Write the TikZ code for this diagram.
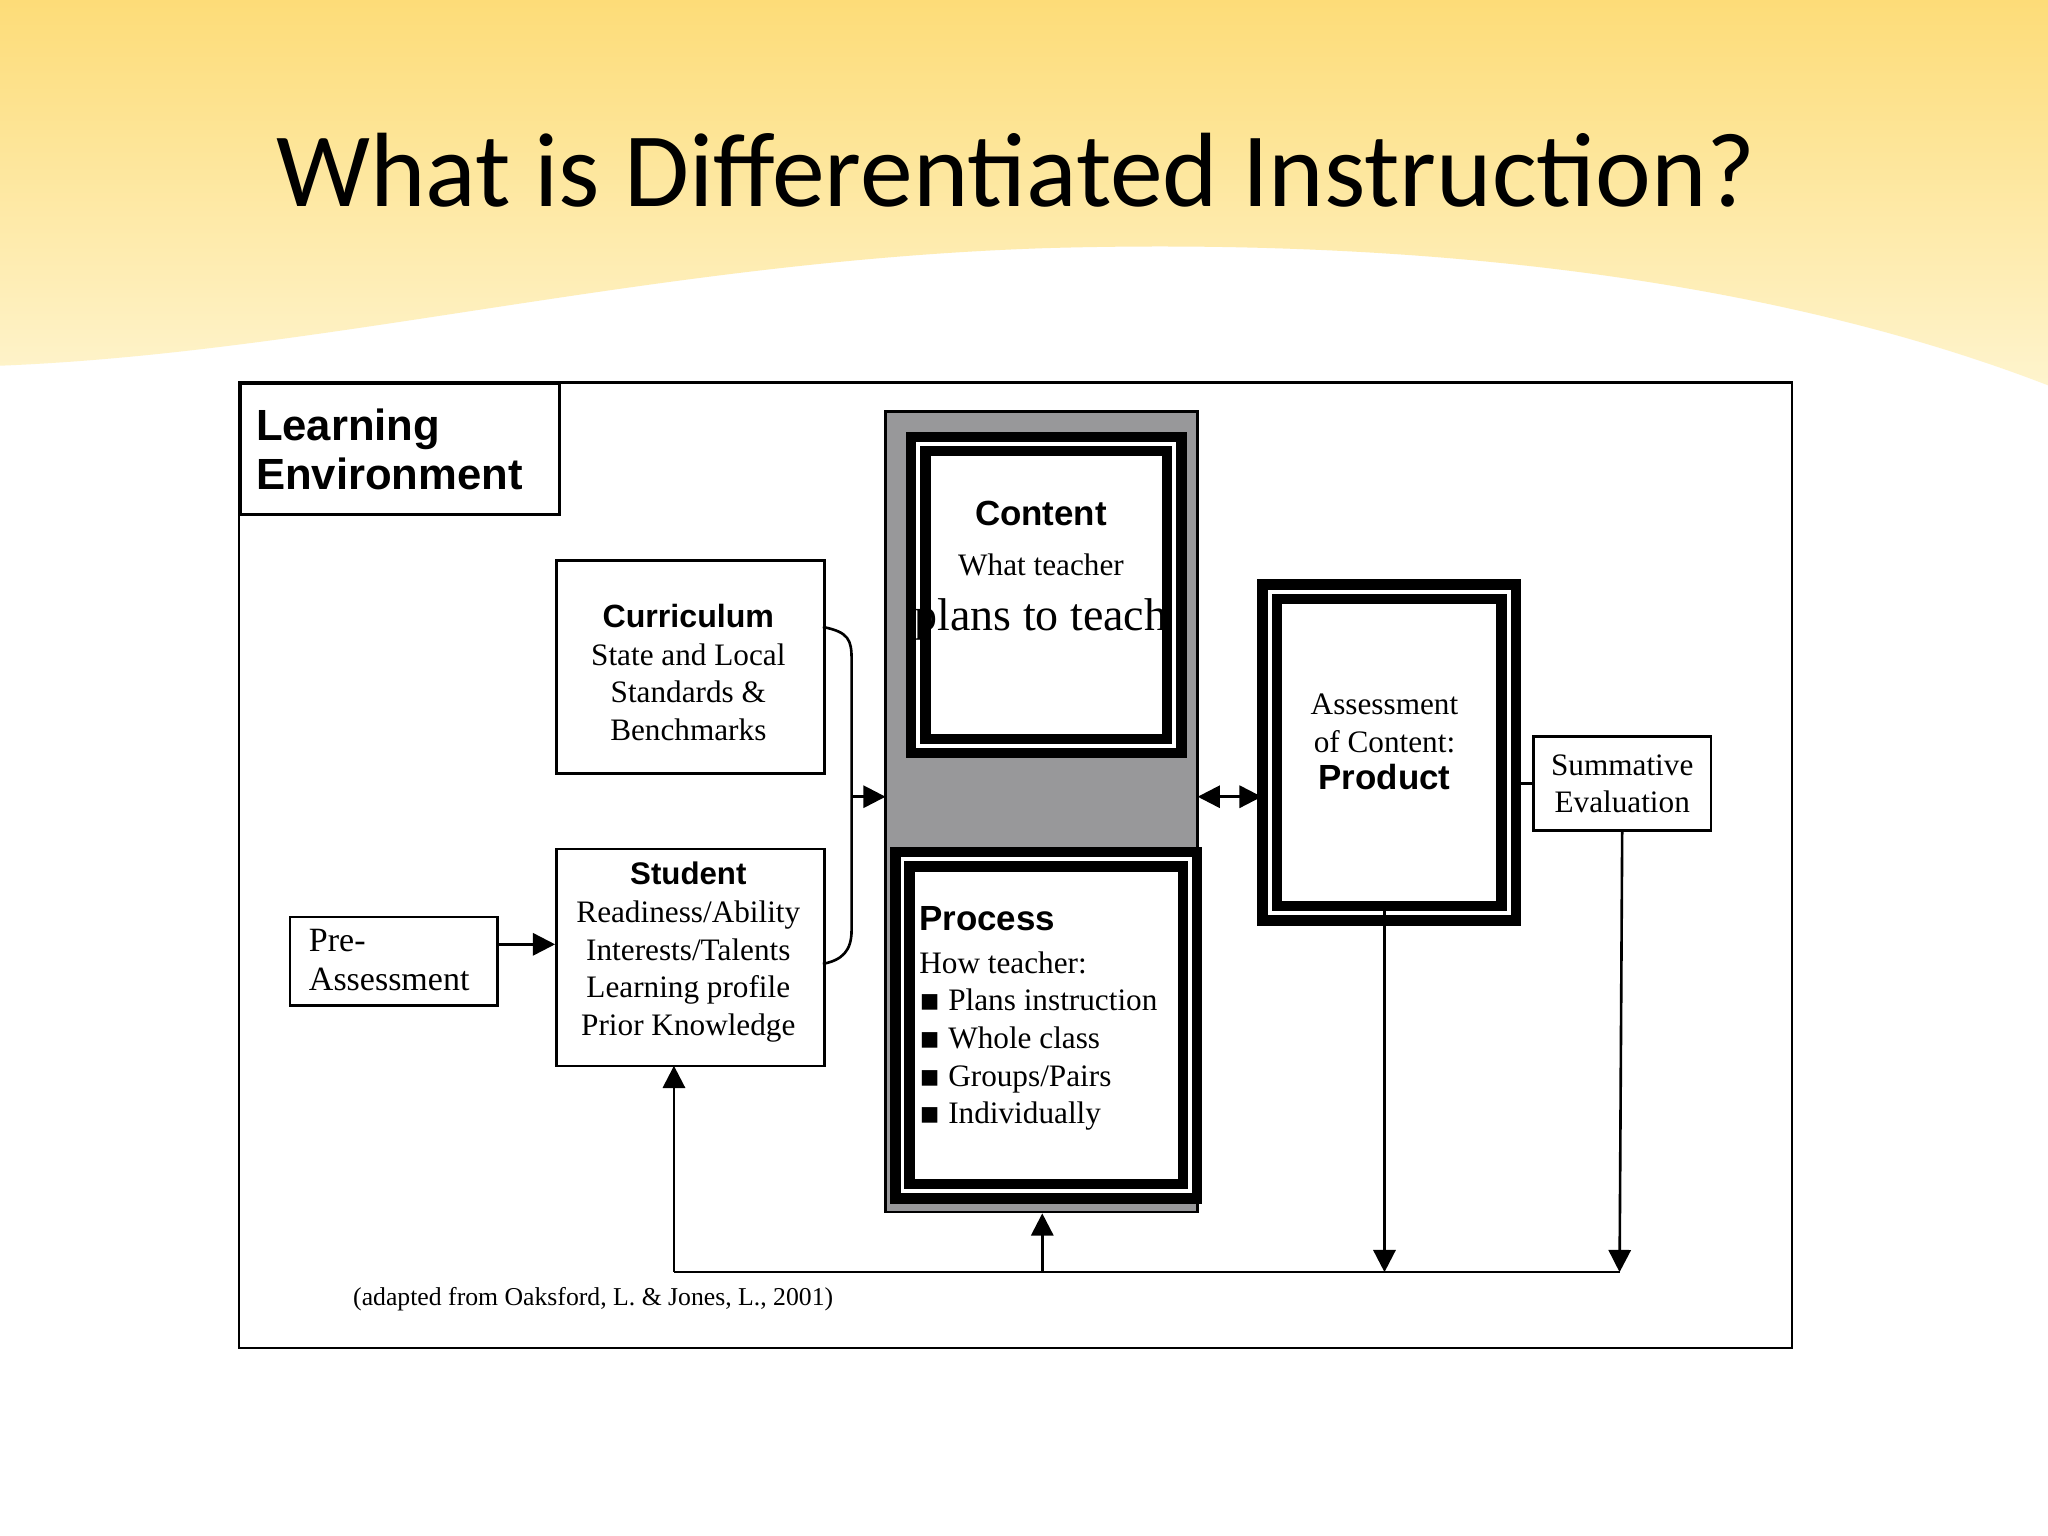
\documentclass[tikz,border=0pt]{standalone}
\usepackage{fontspec}
\setmainfont{Liberation Serif}
\setsansfont{Liberation Sans}
\newfontfamily\titlefont{Carlito}
\newfontfamily\symfont{DejaVu Sans}
\usetikzlibrary{arrows.meta}
\begin{document}
\begin{tikzpicture}[x=0.01cm,y=-0.01cm,
 box/.style={draw,line width=0.02cm,align=center,inner sep=0},
 ln/.style={line width=0.02cm},
 tri/.style={-{Triangle[length=0.17cm,width=0.17cm]}},
 body/.style={font=\fontsize{6.8pt}{8.2pt}\selectfont}]
\useasboundingbox (0,0) rectangle (1568,1176);
\fill[white] (0,0) rectangle (1568,1176);
\shade[top color={rgb,255:red,253;green,220;blue,120},bottom color={rgb,255:red,254;green,244;blue,205}]
 (0,0) -- (1568,0) -- (1568,295) .. controls (1400,230) and (1150,180) .. (800,190)
 .. controls (500,200) and (250,270) .. (0,280) -- cycle;
\node[font=\titlefont\fontsize{23pt}{26pt}\selectfont] (title) at (778,130) {What is Differentiated Instruction?};
\draw[ln,fill=white] (183,293) rectangle (1372,1032);
\node[box,minimum width=2.44cm,minimum height=1.0cm,anchor=north west,align=left,
 font=\sffamily\bfseries\fontsize{9.5pt}{10.5pt}\selectfont,text width=2.2cm] (le) at (183,293) {Learning\\Environment};
\draw[ln,fill={rgb,255:red,152;green,152;blue,154}] (678,315) rectangle (917,928);
\node[draw,line width=0.08cm,fill=white,minimum width=1.96cm,minimum height=2.31cm,anchor=north west,double=white,double distance=0.03cm] (content) at (699,336) {};
\node[align=center] (ct) at (797,437) {{\sffamily\bfseries\fontsize{7.6pt}{9pt}\selectfont Content}\\[-1pt]\fontsize{6.8pt}{8.2pt}\selectfont What teacher\\plans to teach};
\node[draw,line width=0.08cm,fill=white,minimum width=2.2cm,minimum height=2.54cm,anchor=north west,double=white,double distance=0.03cm] (process) at (687,654) {};
\node[align=left,body] (pt) at (795,780) {\hfil{\sffamily\bfseries\fontsize{7.6pt}{9pt}\selectfont Process}\hfil\\[1pt]
 \hfil How teacher:\hfil\\ {\symfont ▪} Plans instruction\\ {\symfont ▪} Whole class\\ {\symfont ▪} Groups/Pairs\\ {\symfont ▪} Individually};
\node[draw,line width=0.08cm,fill=white,minimum width=1.83cm,minimum height=2.46cm,anchor=north west,double=white,double distance=0.03cm] (product) at (968,449) {};
\node[align=center,body] (prt) at (1060,568) {Assessment\\of Content:\\{\sffamily\bfseries\fontsize{7.6pt}{9pt}\selectfont Product}};
\node[box,minimum width=2.05cm,minimum height=1.63cm,anchor=north west] (curr) at (425,428) {};
\node[align=center,body] (currt) at (527,515) {{\sffamily\bfseries\fontsize{7pt}{8pt}\selectfont Curriculum}\\State and Local\\Standards \&\\Benchmarks};
\node[box,minimum width=2.05cm,minimum height=1.66cm,anchor=north west] (stud) at (425,649) {};
\node[align=center,body] (studt) at (527,729) {{\sffamily\bfseries\fontsize{6.8pt}{8pt}\selectfont Student}\\Readiness/Ability\\Interests/Talents\\Learning profile\\Prior Knowledge};
\node[box,minimum width=1.59cm,minimum height=0.68cm,anchor=north west] (pre) at (221,701) {};
\node[align=left,font=\fontsize{7.4pt}{8.6pt}\selectfont] (pret) at (298,735) {Pre-\\Assessment};
\node[box,minimum width=1.36cm,minimum height=0.72cm,body] (summ) at (1242,600) {Summative\\Evaluation};
\draw[ln] (630,480) .. controls (650,484) and (652,490) .. (652,505) -- (652,712) .. controls (652,728) and (645,735) .. (630,738);
\coordinate (b1) at (652,610);
\coordinate (b2) at (678,610);
\draw[ln,tri] (b1) -- (b2);
\draw[ln,{Triangle[length=0.17cm,width=0.17cm]}-{Triangle[length=0.17cm,width=0.17cm]}] (917,610) -- (966,610);
\draw[ln] (product.east |- summ.west) -- (summ.west);
\draw[ln,tri] (pre.east |- 0,723) -- (stud.west |- 0,723);
\coordinate (bl) at (516,974);
\coordinate (br) at (1240,974);
\draw[ln] (bl) -- (br);
\draw[ln,tri] (bl) -- (516,816);
\draw[ln,tri] (798,974) -- (798,929);
\draw[ln,tri] (1060,697) -- (1060,974);
\draw[ln,tri] (summ.south) -- (br);
\node[anchor=west,font=\fontsize{5.6pt}{7pt}\selectfont] (cite) at (258,995) {(adapted from Oaksford, L. \& Jones, L., 2001)};
\end{tikzpicture}
\end{document}
